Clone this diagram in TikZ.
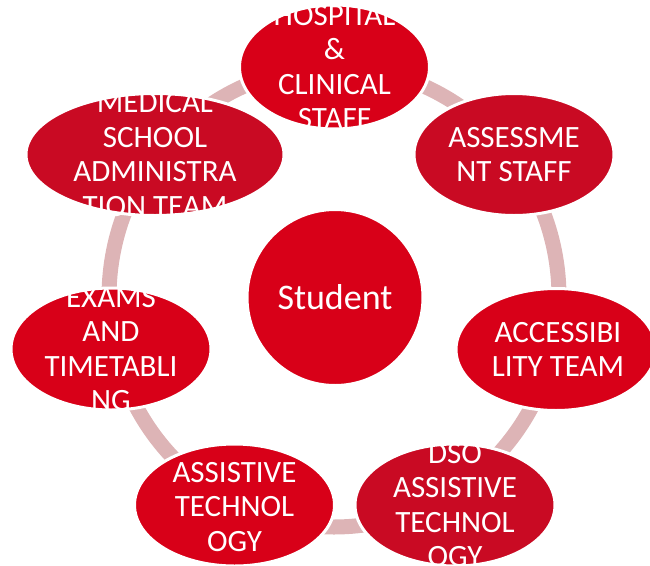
\documentclass[tikz,border=0pt]{standalone}
\usepackage{fontspec}
\setmainfont{Carlito}
\usetikzlibrary{shapes.geometric}
\definecolor{redA}{HTML}{D80018}
\definecolor{redB}{HTML}{C90A23}
\definecolor{ringcol}{HTML}{DDB4B6}
\begin{document}
\begin{tikzpicture}[x=1pt,y=-1pt,
  bub/.style={ellipse, fill=#1, draw=white, line width=3pt, inner sep=0pt,
              minimum width=200pt, minimum height=122pt},
  lbl/.style={text=white, align=center, inner sep=0pt,
              font=\fontsize{31}{34.5}\selectfont},
  ringline/.style={draw=ringcol, line width=15pt}]
\useasboundingbox (0,0) rectangle (650,565);
\clip (0,0) rectangle (650,565);
\coordinate (ringc) at (334,297);
\draw[ringline] (ringc) ellipse [x radius=225, y radius=230];
% centre
\node[circle, fill=redA, draw=white, line width=3pt, minimum size=176pt, inner sep=0pt,
      font=\fontsize{36}{40}\selectfont, text=white] (student) at (335,297.5) {Student};
% outer bubbles
\node[bub=redA, minimum width=190pt, minimum height=124pt] (hosp) at (334.5,67) {};
\node[bub=redB] (assess) at (514,154.5) {};
\node[bub=redB, minimum width=258pt] (med) at (155,154.5) {};
\node[bub=redA] (exams) at (111,349) {};
\node[bub=redA] (access) at (556,349.5) {};
\node[bub=redB] (dso) at (455,505) {};
\node[bub=redA] (assist) at (234.5,505) {};
% labels
\node[lbl] at (hosp) {HOSPITAL\\\&\\CLINICAL\\STAFF};
\node[lbl] at (assess) {ASSESSME\\NT STAFF};
\node[lbl] at (med) {MEDICAL\\SCHOOL\\ADMINISTRA\\TION TEAM};
\node[lbl] at (exams) {EXAMS\\AND\\TIMETABLI\\NG};
\node[lbl] at ([xshift=2pt]access.center) {ACCESSIBI\\LITY TEAM};
\node[lbl] at (dso) {DSO\\ASSISTIVE\\TECHNOL\\OGY};
\node[lbl] at ([yshift=-2pt]assist.center) {ASSISTIVE\\TECHNOL\\OGY};
\end{tikzpicture}
\end{document}
